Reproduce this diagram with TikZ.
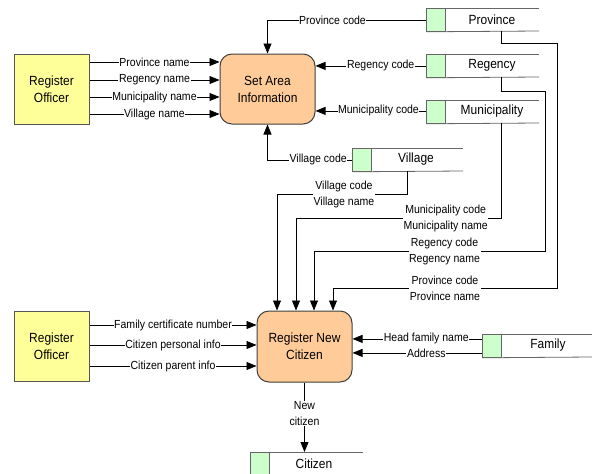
\documentclass[tikz,border=0pt]{standalone}
\usepackage{fontspec}
\setmainfont{Liberation Sans}[FakeStretch=0.9]
\usetikzlibrary{arrows.meta}
\definecolor{offfill}{HTML}{FFFF99}
\definecolor{procfill}{HTML}{FFCC99}
\definecolor{storefill}{HTML}{CCFFCC}
\definecolor{edgegray}{HTML}{555555}
\definecolor{storegray}{HTML}{666666}
\newcommand{\mystore}[6]{%
  \node[greenbox, anchor=north west] (#1) at (#2,#3) {};
  \draw[storeline] (#1.north west) -- (#4,#3);
  \draw[storeline] (#1.south west) -- (#4,#3+23);
  \node[storetext] (#1txt) at (#5,#3+11.5) {#6};
}
\begin{document}
\begin{tikzpicture}[x=1pt,y=-1pt,
  extbox/.style={draw=edgegray, fill=offfill, line width=1pt, minimum width=75pt, minimum height=70pt,
    inner sep=0pt, align=center, font=\fontsize{13.3}{17}\selectfont},
  procbox/.style={draw=black!75, fill=procfill, rounded corners=12pt, line width=1pt, minimum width=95pt,
    minimum height=70pt, inner sep=0pt, align=center, font=\fontsize{13.3}{17}\selectfont},
  greenbox/.style={draw=storegray, fill=storefill, line width=0.8pt, minimum width=19pt, minimum height=23pt, inner sep=0pt},
  storeline/.style={draw=storegray, line width=0.8pt},
  storetext/.style={font=\fontsize{13.3}{15}\selectfont},
  lbl/.style={fill=white, inner sep=0.6pt, align=center, font=\fontsize{11.7}{16}\selectfont},
  flow/.style={-{Triangle[length=10pt,width=8pt]}, line width=0.8pt},
]
\useasboundingbox (0,0) rectangle (592,474);
\clip (0,0) rectangle (592,474);

% processes and external entities
\node[extbox] (off1) at (51.5,89) {Register\\Officer};
\node[procbox] (sai) at (267.5,89) {Set Area\\Information};
\node[extbox] (off2) at (51.5,346.5) {Register\\Officer};
\node[procbox, minimum height=71pt] (rnc) at (304.5,346.5) {Register New\\Citizen};

% data stores
\mystore{prov}{426}{8}{539}{492}{Province}
\mystore{reg}{426}{54}{539}{492}{Regency}
\mystore{mun}{426}{100}{539}{492}{Municipality}
\mystore{vil}{352}{148}{463}{416}{Village}
\mystore{fam}{482}{334}{592}{548}{Family}
\mystore{cit}{250}{452}{363}{314}{Citizen}

% named start points
\coordinate (o1a) at ([yshift=27pt]off1.east);
\coordinate (o1b) at ([yshift=9pt]off1.east);
\coordinate (o1c) at ([yshift=-8pt]off1.east);
\coordinate (o1d) at ([yshift=-25pt]off1.east);
\coordinate (o2a) at ([yshift=21.5pt]off2.east);
\coordinate (o2b) at ([yshift=1.5pt]off2.east);
\coordinate (o2c) at ([yshift=-19.5pt]off2.east);
\coordinate (muna) at ([yshift=1pt]mun.west);
\coordinate (fama) at ([yshift=7pt]fam.west);
\coordinate (famb) at ([yshift=-7pt]fam.west);
\coordinate (rin1) at ([xshift=-27.5pt]rnc.north);
\coordinate (rin2) at ([xshift=-8.5pt]rnc.north);
\coordinate (rin3) at ([xshift=9.5pt]rnc.north);
\coordinate (rin4) at ([xshift=28.5pt]rnc.north);

% officer -> set area information
\draw[flow] (o1a) -- node[lbl]{Province name} (sai.west |- o1a);
\draw[flow] (o1b) -- node[lbl]{Regency name} (sai.west |- o1b);
\draw[flow] (o1c) -- node[lbl]{Municipality name} (sai.west |- o1c);
\draw[flow] (o1d) -- node[lbl]{Village name} (sai.west |- o1d);

% stores -> set area information
\draw[flow] (prov.west) -- node[lbl,pos=0.59]{Province code} (prov.west -| sai.north) -- (sai.north);
\draw[flow] (reg.west) -- node[lbl,pos=0.41]{Regency code} (sai.east |- reg.west);
\draw[flow] (muna) -- node[lbl,pos=0.43]{Municipality code} (sai.east |- muna);
\draw[flow] (vil.west) -- node[lbl,pos=0.4]{Village code} (vil.west -| sai.south) -- (sai.south);

% stores -> register new citizen
\coordinate (vilout) at (407,171);
\coordinate (munout) at (501,123);
\coordinate (regout) at (501,77);
\coordinate (provout) at (501,31);
\draw[flow] (vilout) -- (407,194) -- node[lbl,pos=0.485]{Village code\\Village name} (277,194) -- (rin1);
\draw[flow] (munout) -- (501,218) -- node[lbl,pos=0.27]{Municipality code\\Municipality name} (296,218) -- (rin2);
\draw[flow] (regout) -- (501,91) -- (545,91) -- (545,251) -- node[lbl,pos=0.435]{Regency code\\Regency name} (314,251) -- (rin3);
\draw[flow] (provout) -- (501,43) -- (557,43) -- (557,288) -- node[lbl,pos=0.5]{Province code\\Province name} (333,288) -- (rin4);

% officer -> register new citizen
\draw[flow] (o2a) -- node[lbl]{Family certificate number} (rnc.west |- o2a);
\draw[flow] (o2b) -- node[lbl]{Citizen personal info} (rnc.west |- o2b);
\draw[flow] (o2c) -- node[lbl]{Citizen parent info} (rnc.west |- o2c);

% family -> register new citizen
\draw[flow] (fama) -- node[lbl,pos=0.43]{Head family name} (rnc.east |- fama);
\draw[flow] (famb) -- node[lbl,pos=0.43]{Address} (rnc.east |- famb);

% register new citizen -> citizen
\draw[flow] (rnc.south) -- node[lbl,pos=0.45]{New\\citizen} (rnc.south |- cit.north);
\end{tikzpicture}
\end{document}
